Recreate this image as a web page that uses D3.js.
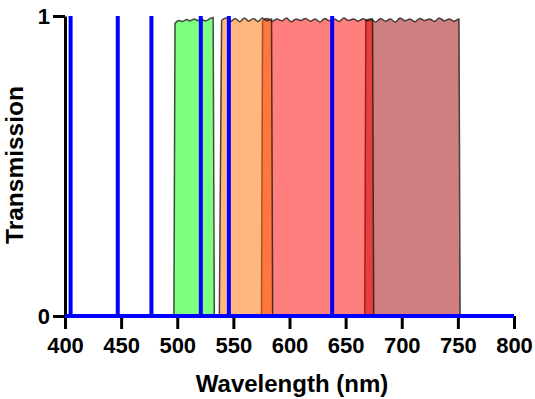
<!DOCTYPE html>
<html>
<head>
<meta charset="utf-8">
<script src="https://cdn.jsdelivr.net/npm/d3@7"></script>
<style>
  body { margin: 0; background: #fff; }
  svg text { font-family: "Liberation Sans", Arial, sans-serif; font-weight: bold; fill: #000; }
</style>
</head>
<body>
<svg id="container" width="535" height="399"></svg>
<script>
// laser lines (nm)
const laserLines = [405, 447, 477, 521, 546, 638];

// filter bands, drawn back to front
const filterNames = ["brown", "red", "orange", "green"];
const filterColors = ["#a00000", "#ff0000", "#ff7000", "#00ff00"];
// [bottom start, top start, top end, bottom end] in nm
const filterEdges = [
    [667, 668, 751, 752],
    [575, 576, 674, 675],
    [537.5, 539.5, 584, 585],
    [497, 498, 532, 533]
];
const filterTops = [
    [0.985, 0.99, 0.98, 0.992, 0.983, 0.99, 0.98, 0.993, 0.984, 0.99, 0.981, 0.992, 0.985, 0.99, 0.982, 0.993, 0.984, 0.99, 0.983, 0.99],
    [0.985, 0.992, 0.982, 0.99, 0.984, 0.993, 0.981, 0.99, 0.985, 0.992, 0.983, 0.99, 0.98, 0.992, 0.984, 0.99, 0.982, 0.993, 0.985, 0.99, 0.983, 0.991, 0.984, 0.99],
    [0.985, 0.993, 0.982, 0.992, 0.981, 0.993, 0.983, 0.992, 0.982, 0.993, 0.984, 0.99],
    [0.975, 0.985, 0.982, 0.988, 0.984, 0.99, 0.985, 0.988, 0.984, 0.99, 0.995]
];

const xTicks = [400, 450, 500, 550, 600, 650, 700, 750, 800];
const yTicks = [0, 1];

function dograph() {
    let svg = d3.select("#container");

    let x = d3.scaleLinear().domain([400, 800]).range([65, 514]);
    let y = d3.scaleLinear().domain([0, 1]).range([316, 16]);

    // build each band outline from its edges and ripple values
    let bands = filterNames.map(function(name, i) {
        let e = filterEdges[i], tops = filterTops[i];
        let pts = [[e[0], 0]];
        tops.forEach(function(t, k) {
            pts.push([e[1] + (e[2] - e[1]) * k / (tops.length - 1), t]);
        });
        pts.push([e[3], 0]);
        return { name: name, color: filterColors[i], pts: pts };
    });

    let area = d3.line()
        .x(function(d) { return x(d[0]); })
        .y(function(d) { return y(d[1]); })
        .curve(d3.curveMonotoneX);

    svg.append("g")
        .selectAll("path")
        .data(bands)
        .enter().append("path")
        .attr("d", function(d) { return area(d.pts); })
        .attr("fill", function(d) { return d.color; })
        .attr("fill-opacity", 0.5)
        .attr("stroke", "#111")
        .attr("stroke-opacity", 0.75)
        .attr("stroke-width", 1.5);

    // x axis: ticks only, the blue baseline sits on top
    let xAxis = svg.append("g")
        .attr("transform", "translate(0,316)")
        .call(d3.axisBottom(x).tickValues(xTicks).tickSize(13).tickSizeOuter(0).tickPadding(8));
    xAxis.select(".domain").remove();
    xAxis.selectAll(".tick line").attr("stroke", "#000").attr("stroke-width", 3);
    xAxis.selectAll(".tick text").style("font-size", "22px");

    // y axis
    let yAxis = svg.append("g")
        .attr("transform", "translate(65,0)")
        .call(d3.axisLeft(y).tickValues(yTicks).tickFormat(d3.format("d"))
            .tickSize(12).tickSizeOuter(0).tickPadding(3));
    yAxis.select(".domain").attr("stroke", "#000").attr("stroke-width", 3);
    yAxis.selectAll(".tick line").attr("stroke", "#000").attr("stroke-width", 3);
    yAxis.selectAll(".tick text").style("font-size", "22px");

    // baseline
    svg.append("line")
        .attr("x1", x(400)).attr("x2", x(800))
        .attr("y1", y(0)).attr("y2", y(0))
        .attr("stroke", "#0000ff").attr("stroke-width", 4);

    // laser lines
    svg.append("g")
        .selectAll("line")
        .data(laserLines)
        .enter().append("line")
        .attr("x1", function(d) { return x(d); })
        .attr("x2", function(d) { return x(d); })
        .attr("y1", y(0)).attr("y2", y(1))
        .attr("stroke", "#0000ff")
        .attr("stroke-width", 4);

    svg.append("text")
        .attr("x", 292).attr("y", 392)
        .attr("text-anchor", "middle")
        .style("font-size", "24px")
        .text("Wavelength (nm)");

    svg.append("text")
        .attr("transform", "translate(23,165) rotate(-90)")
        .attr("text-anchor", "middle")
        .style("font-size", "24.5px")
        .text("Transmission");
}

document.addEventListener("DOMContentLoaded", dograph);
</script>
</body>
</html>
